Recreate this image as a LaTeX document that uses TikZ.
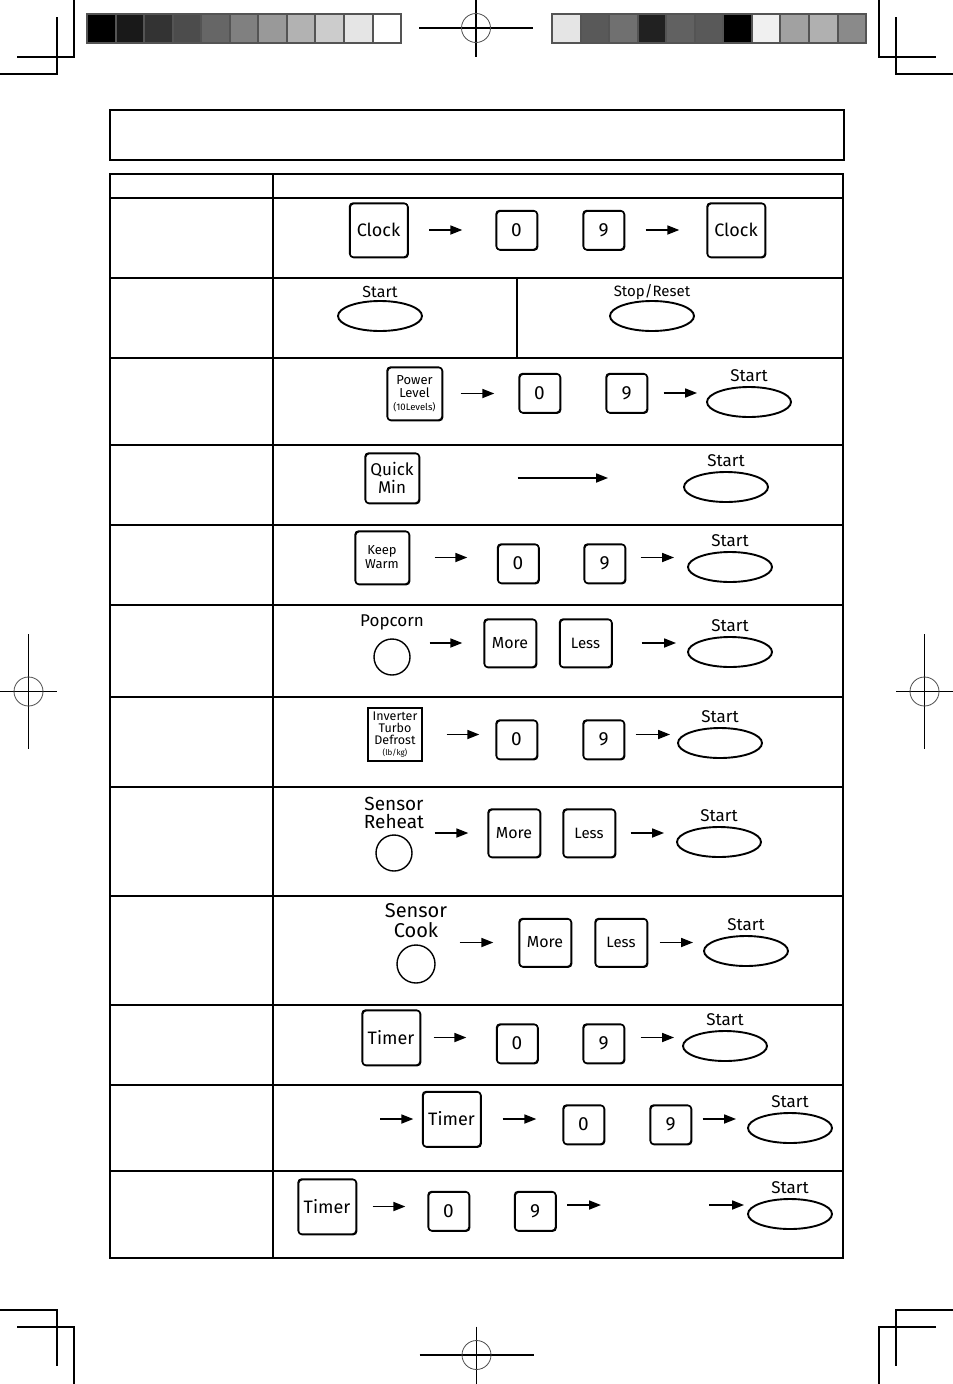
\documentclass[tikz,border=0pt]{standalone}
\usepackage{fontspec}
\setmainfont{Fira Sans}
\usetikzlibrary{shapes.geometric, arrows.meta, positioning, calc}

\newcommand{\fsz}[2]{\fontsize{#1}{#2}\selectfont}

\begin{document}
\begin{tikzpicture}[
    x=1pt, y=-1pt,
    key/.style={
        draw=black,
        rounded corners=3.5pt,
        line width=1.3pt,
        inner sep=0pt,
        align=center,
        minimum width=41pt,
        minimum height=39pt,
        font=\fsz{19}{19},
        preaction={draw, line width=1.3pt, transform canvas={xshift=0.7pt, yshift=-0.7pt}}
    },
    bigkey/.style={key, minimum width=58pt, minimum height=54pt, font=\fsz{18}{18}},
    padkey/.style={key, minimum width=52pt, minimum height=48pt, font=\fsz{16}{16}},
    startbtn/.style={draw, ellipse, line width=1.9pt, inner sep=0pt,
        minimum width=84pt, minimum height=30pt},
    sensbtn/.style={draw, circle, line width=1.4pt, inner sep=0pt, minimum size=36pt},
    lbl/.style={font=\fsz{17}{18}, inner sep=0pt, align=center, yshift=4pt},
    arrow/.style={-{Triangle[length=12pt, width=9pt]}, line width=1.7pt},
    cropline/.style={line width=1.2pt},
    target/.style={draw=black!70, line width=0.8pt}
]
\useasboundingbox (0,0) rectangle (953,1384);

% colour bars
\foreach \g [count=\i from 0] in {100,90,80,70,60,50,40,30,20,10,0}
    \draw[draw=black!67, line width=2pt, fill=black!\g] (87+\i*28.55,14) rectangle ++(28.55,29);
\foreach \g [count=\i from 0] in {10,65,56,87,62,65,100,6,37,31,46}
    \draw[draw=black!67, line width=2pt, fill=black!\g] (552+\i*28.55,14) rectangle ++(28.55,29);

% crop marks
\draw[cropline] (74,0) -- (74,57) -- (17,57);
\draw[cropline] (57,17) -- (57,74) -- (0,74);
\draw[cropline] (879,0) -- (879,57) -- (936,57);
\draw[cropline] (896,17) -- (896,74) -- (953,74);
\draw[cropline] (0,1310) -- (57,1310) -- (57,1366);
\draw[cropline] (17,1327) -- (74,1327) -- (74,1384);
\draw[cropline] (953,1310) -- (896,1310) -- (896,1366);
\draw[cropline] (936,1327) -- (879,1327) -- (879,1384);

% register targets
\foreach \cx/\cy in {476/28, 476.5/1355} {
    \draw[cropline] (\cx-57,\cy) -- (\cx+57,\cy);
    \draw[cropline] (\cx,\cy-28.5) -- (\cx,\cy+28.5);
    \draw[target] (\cx,\cy) circle[radius=14.5];
}
\foreach \cx in {28.5, 924.5} {
    \draw[cropline] (\cx-28.5,691.5) -- (\cx+28.5,691.5);
    \draw[cropline] (\cx,634) -- (\cx,748.5);
    \draw[target] (\cx,691.5) circle[radius=14.5];
}

% title box and table
\draw[line width=1.8pt] (110,110) rectangle (844,160);
\draw[line width=1.2pt] (110,174) rectangle (843,1258);
\draw[line width=2.6pt] (110,174) -- (110,1258);
\draw[line width=1.2pt] (273,174) -- (273,1258);
\foreach \y in {198,278,445,525,787,896,1005,1171}
    \draw[line width=1.2pt] (110,\y) -- (843,\y);
\foreach \y in {358,605,697,1085}
    \draw[line width=2.2pt] (110,\y) -- (843,\y);
\draw[line width=1.2pt] (517,278) -- (517,358);

% clock
\node[bigkey] (clock1) at (378.5,230) {Clock};
\node[key] (zero1) at (516.5,230) {0};
\node[key] (nine1) at (603.5,230) {9};
\node[bigkey] (clock2) at (736,230) {Clock};
\draw[arrow, shorten <=21pt, shorten >=33pt] (clock1.east) -- (zero1.west);
\draw[arrow, shorten <=21pt, shorten >=27pt] (nine1.east) -- (clock2.west);

% start / stop
\node[startbtn, label={[lbl, yshift=-2pt, font=\fsz{16}{16}]above:Start}] (start0) at (380,316) {};
\node[startbtn, label={[lbl, yshift=-4pt, font=\fsz{15}{15}]above:Stop/Reset}] (stop) at (652,316) {};

% power level
\node[bigkey, minimum width=55pt, minimum height=53pt, font=\fsz{13}{13.5}] (power) at (414.5,393.5)
    {Power\\Level\\[-1pt]{\fsz{9.5}{10}(10Levels)}};
\node[key] (zero2) at (539.5,393) {0};
\node[key] (nine2) at (626.5,393) {9};
\node[startbtn, label={[lbl]above:Start}] (start2) at (749,402) {};
\draw[arrow, shorten <=18pt, shorten >=24pt] (power.east) -- (power.east -| zero2.west);
\draw[arrow, shorten <=16pt, shorten >=9pt] (nine2.east) -- (nine2.east -| start2.west);

% quick min
\node[bigkey, minimum width=54pt, minimum height=50pt, font=\fsz{17}{18}] (quick) at (392,478) {Quick\\Min};
\node[startbtn, label={[lbl]above:Start}] (start3) at (726,487) {};
\draw[arrow, shorten <=98pt, shorten >=75pt] (quick.east) -- (quick.east -| start3.west);

% keep warm
\node[bigkey, minimum width=54pt, minimum height=53pt, font=\fsz{13}{14}] (warm) at (382,557.5) {Keep\\Warm};
\node[key] (zero3) at (518,563.5) {0};
\node[key] (nine3) at (604.5,563.5) {9};
\node[startbtn, label={[lbl]above:Start}] (start4) at (730,567) {};
\draw[arrow, shorten <=25pt, shorten >=29.5pt] (warm.east) -- (warm.east -| zero3.west);
\draw[arrow, shorten <=15pt, shorten >=13pt] (nine3.east |- warm.east) -- (start4.west |- warm.east);

% popcorn
\node[sensbtn, label={[lbl, yshift=4pt]above:Popcorn}] (popcorn) at (392,657) {};
\node[padkey] (more1) at (510,643) {More};
\node[padkey, font=\fsz{15}{15}] (less1) at (585.5,643) {Less};
\node[startbtn, label={[lbl]above:Start}] (start5) at (730,652) {};
\draw[arrow, shorten <=19pt, shorten >=21pt] (popcorn.east |- more1.west) -- (more1.west);
\draw[arrow, shorten <=29.5pt, shorten >=11pt] (less1.east) -- (less1.east -| start5.west);

% inverter turbo defrost
\node[bigkey, rounded corners=0pt, minimum width=54pt, minimum height=53pt, font=\fsz{12.5}{12}] (defrost) at (395,734.5)
    {Inverter\\Turbo\\Defrost\\[-1pt]{\fsz{8}{9}(lb/kg)}};
\node[key] (zero4) at (516.5,739.5) {0};
\node[key] (nine4) at (603.5,739.5) {9};
\node[startbtn, label={[lbl]above:Start}] (start6) at (720,743) {};
\draw[arrow, shorten <=24pt, shorten >=16pt] (defrost.east) -- (defrost.east -| zero4.west);
\draw[arrow, shorten <=11pt, shorten >=7pt] (nine4.east |- defrost.east) -- (start6.west |- defrost.east);

% sensor reheat
\node[sensbtn, label={[lbl, yshift=1pt, font=\fsz{19}{18}]above:{Sensor\\Reheat}}] (reheat) at (394,853) {};
\node[padkey] (more2) at (514,833) {More};
\node[padkey, font=\fsz{15}{15}] (less2) at (589,833) {Less};
\node[startbtn, label={[lbl]above:Start}] (start7) at (719,842) {};
\draw[arrow, shorten <=22pt, shorten >=19pt] (reheat.east |- more2.west) -- (more2.west);
\draw[arrow, shorten <=15pt, shorten >=12pt] (less2.east) -- (less2.east -| start7.west);

% sensor cook
\node[sensbtn, minimum size=38pt, label={[lbl, yshift=2pt, font=\fsz{20}{20}]above:{Sensor\\Cook}}] (cook) at (416,964) {};
\node[padkey] (more3) at (545,942.5) {More};
\node[padkey, font=\fsz{15}{15}] (less3) at (621,942.5) {Less};
\node[startbtn, label={[lbl]above:Start}] (start8) at (746,951) {};
\draw[arrow, shorten <=24pt, shorten >=25pt] (cook.east |- more3.west) -- (more3.west);
\draw[arrow, shorten <=12pt, shorten >=10pt] (less3.east) -- (less3.east -| start8.west);

% timer
\node[bigkey, minimum height=55pt] (timer1) at (391,1037.5) {Timer};
\node[key] (zero5) at (517,1043.5) {0};
\node[key] (nine5) at (603.5,1043.5) {9};
\node[startbtn, label={[lbl]above:Start}] (start9) at (725,1046) {};
\draw[arrow, shorten <=13pt, shorten >=29.5pt] (timer1.east) -- (timer1.east -| zero5.west);
\draw[arrow, shorten <=16pt, shorten >=8pt] (nine5.east |- timer1.east) -- (start9.west |- timer1.east);

% timer, second stage
\coordinate (in11) at (380,1119);
\node[bigkey, minimum height=55pt] (timer2) at (451.5,1119) {Timer};
\node[key] (zero6) at (583.5,1124.5) {0};
\node[key] (nine6) at (670.5,1124.5) {9};
\node[startbtn, label={[lbl]above:Start}] (start10) at (790,1128) {};
\draw[arrow, shorten >=8.5pt] (in11) -- (timer2.west);
\draw[arrow, shorten <=21.5pt, shorten >=26pt] (timer2.east) -- (timer2.east -| zero6.west);
\draw[arrow, shorten <=11pt, shorten >=11pt] (nine6.east |- timer2.east) -- (start10.west |- timer2.east);

% timer, delayed start
\node[bigkey, minimum height=55pt] (timer3) at (327,1206.5) {Timer};
\node[key] (zero7) at (448.5,1211) {0};
\node[key] (nine7) at (535,1211) {9};
\node[startbtn, label={[lbl]above:Start}] (start11) at (790,1214) {};
\coordinate (out12) at (601,1205);
\coordinate (in12) at (709,1205);
\draw[arrow, shorten <=16pt, shorten >=22pt] (timer3.east) -- (timer3.east -| zero7.west);
\draw[arrow, shorten <=11pt] (nine7.east |- out12) -- (out12);
\draw[arrow, shorten >=3pt] (in12) -- (start11.west |- in12);

\end{tikzpicture}
\end{document}
